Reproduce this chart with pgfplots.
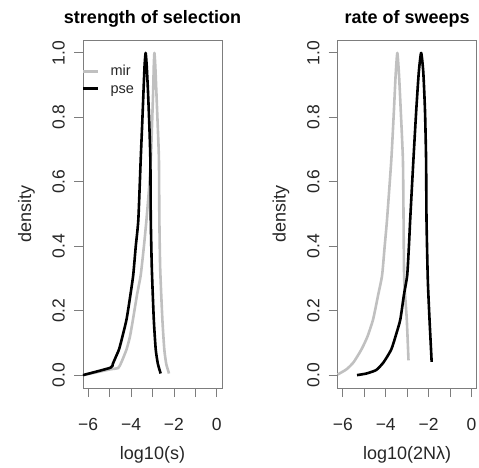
\documentclass[border=0pt]{standalone}
\usepackage{pgfplots}
\pgfplotsset{compat=1.18}
\usepackage{fontspec}
\setmainfont{Liberation Sans}
\definecolor{mirGray}{RGB}{192,192,192}
\definecolor{boxGray}{RGB}{125,125,125}

\pgfplotsset{
    densplot/.style={
            scale only axis,
            width=139pt,
            height=348pt,
            xmin=-6.24, xmax=0.24,
            ymin=-0.04, ymax=1.04,
            axis line style={boxGray, line width=0.9pt},
            tick style={boxGray, line width=0.9pt},
            tick align=outside,
            major tick length=9pt,
            xtick pos=bottom,
            ytick pos=left,
            xtick={-6,-5,-4,-3,-2,-1,0},
            xticklabels={−6,,−4,,−2,,0},
            ytick={0,0.2,0.4,0.6,0.8,1},
            yticklabels={0.0,0.2,0.4,0.6,0.8,1.0},
            tick label style={font=\fontsize{17.5}{20}\selectfont, text=black!85},
            xticklabel style={anchor=north, inner sep=0pt},
            yticklabel style={rotate=90, anchor=south, inner sep=0pt},
            xticklabel shift=21pt,
            yticklabel shift=9pt,
            label style={font=\fontsize{18}{21}\selectfont, text=black!85},
            xlabel style={at={(axis description cs:0.5,-0.205)}, anchor=base},
            ylabel style={at={(axis description cs:-0.374,0.5)}, anchor=base},
            title style={font=\bfseries\fontsize{18}{21}\selectfont,
                    at={(axis description cs:0.5,1.031)}, anchor=base},
            ylabel={density},
            clip=false,
        },
    dens/.style={line width=2.6pt, line join=round, smooth, tension=0.35},
}

\begin{document}
\begin{tikzpicture}
    \useasboundingbox (0,0) rectangle (479pt,467pt);

    % left panel
    \begin{axis}[densplot, at={(83pt,79pt)}, anchor=south west,
            title={strength of selection}, xlabel={log10(s)}]

        \addplot[mirGray, dens] coordinates {
                (-6.24,0.000) (-4.96,0.018) (-4.60,0.022) (-4.45,0.040)
                (-4.21,0.080) (-4.05,0.120) (-3.91,0.173) (-3.72,0.250)
                (-3.55,0.310) (-3.40,0.400) (-3.28,0.483) (-3.16,0.580)
                (-3.08,0.669) (-3.02,0.780) (-2.97,0.880) (-2.94,0.960)
                (-2.91,1.000) (-2.87,0.960) (-2.82,0.880) (-2.76,0.780)
                (-2.70,0.669) (-2.68,0.483) (-2.64,0.328) (-2.54,0.173)
                (-2.45,0.080) (-2.36,0.035) (-2.23,0.005)
            };

        \addplot[black, dens] coordinates {
                (-6.24,0.000) (-4.96,0.023) (-4.85,0.035) (-4.72,0.055)
                (-4.56,0.080) (-4.40,0.120) (-4.21,0.173) (-4.05,0.240)
                (-3.90,0.310) (-3.78,0.400) (-3.66,0.483) (-3.55,0.669)
                (-3.48,0.780) (-3.42,0.880) (-3.37,0.960) (-3.32,1.000)
                (-3.27,0.960) (-3.21,0.880) (-3.15,0.780) (-3.10,0.669)
                (-3.08,0.483) (-3.03,0.328) (-2.94,0.173) (-2.85,0.080)
                (-2.75,0.035) (-2.62,0.005)
            };

        % legend
        \addplot[mirGray, line width=2.6pt] coordinates {(-6.24,0.943) (-5.55,0.943)};
        \addplot[black, line width=2.6pt] coordinates {(-6.24,0.889) (-5.55,0.889)};
        \node[anchor=base west, inner sep=0pt, font=\fontsize{14.5}{17}\selectfont, text=black!85]
        at (axis cs:-4.96,0.930) {mir};
        \node[anchor=base west, inner sep=0pt, font=\fontsize{14.5}{17}\selectfont, text=black!85]
        at (axis cs:-4.96,0.874) {pse};
    \end{axis}

    % right panel
    \begin{axis}[densplot, at={(337.7pt,79pt)}, anchor=south west,
            title={rate of sweeps}, xlabel={log10(2Nλ)}]

        \addplot[mirGray, dens] coordinates {
                (-6.24,0.002) (-5.83,0.018) (-5.50,0.040) (-5.13,0.080)
                (-4.85,0.120) (-4.59,0.173) (-4.35,0.250) (-4.17,0.310)
                (-4.05,0.400) (-3.94,0.483) (-3.74,0.669) (-3.62,0.820)
                (-3.54,0.930) (-3.46,1.000) (-3.38,0.930) (-3.30,0.820)
                (-3.20,0.669) (-3.17,0.483) (-3.14,0.297) (-3.02,0.173)
                (-2.94,0.046)
            };

        \addplot[black, dens] coordinates {
                (-5.34,0.000) (-4.90,0.005) (-4.44,0.016) (-4.10,0.040)
                (-3.74,0.080) (-3.50,0.130) (-3.32,0.173) (-3.15,0.250)
                (-3.00,0.310) (-2.92,0.400) (-2.86,0.483) (-2.71,0.669)
                (-2.58,0.820) (-2.46,0.940) (-2.35,1.000) (-2.25,0.940)
                (-2.17,0.820) (-2.12,0.669) (-2.10,0.483) (-2.04,0.297)
                (-1.96,0.173) (-1.86,0.041)
            };
    \end{axis}
\end{tikzpicture}
\end{document}
